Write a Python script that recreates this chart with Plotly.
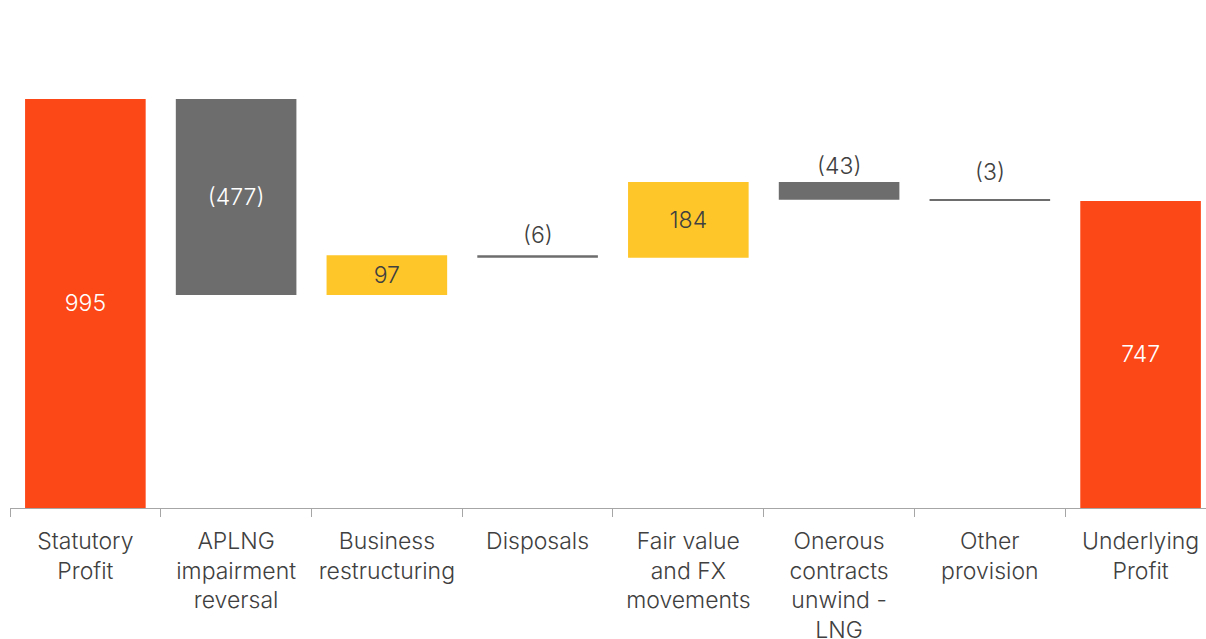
import plotly.graph_objects as go

categories = [
    "Statutory<br>Profit",
    "APLNG<br>impairment<br>reversal",
    "Business<br>restructuring",
    "Disposals",
    "Fair value<br>and FX<br>movements",
    "Onerous<br>contracts<br>unwind -<br>LNG",
    "Other<br>provision",
    "Underlying<br>Profit",
]
values = [995, -477, 97, -6, 184, -43, -3, 747]
kinds = ["total", "delta", "delta", "delta", "delta", "delta", "delta", "total"]

ORANGE = "#FC4717"
GREY = "#6D6D6D"
YELLOW = "#FFC629"
DARK = "#404040"
FONT = "Inter"

# running bases for the floating bars
bases, heights, colors = [], [], []
running = 0
for v, k in zip(values, kinds):
    if k == "total":
        bases.append(0)
        heights.append(v)
        colors.append(ORANGE)
        running = v
    else:
        if v >= 0:
            bases.append(running)
            heights.append(v)
            colors.append(YELLOW)
        else:
            bases.append(running + v)
            heights.append(-v)
            colors.append(GREY)
        running += v

def fmt(v, k):
    return f"({abs(v)})" if (v < 0 and k != "total") else f"{v}"

labels = [fmt(v, k) for v, k in zip(values, kinds)]
inside = [h >= 60 for h in heights]
text_in = [lab if ins else "" for lab, ins in zip(labels, inside)]
text_colors = [DARK if c == YELLOW else "white" for c in colors]

fig = go.Figure()
fig.add_trace(go.Bar(
    x=categories,
    y=heights,
    base=bases,
    width=0.8,
    marker=dict(color=colors, line=dict(width=0)),
    text=text_in,
    textposition="inside",
    insidetextanchor="middle",
    textangle=0,
    textfont=dict(family=FONT, size=23, color=text_colors, weight=300),
    hoverinfo="skip",
))

# labels for the thin bars sit above the bar
label_gap = {3: 4, 5: 0, 6: 12}
for i, (lab, ins) in enumerate(zip(labels, inside)):
    if not ins:
        fig.add_annotation(
            x=categories[i], y=bases[i] + heights[i], text=lab, showarrow=False,
            yanchor="bottom", yshift=label_gap.get(i, 4),
            font=dict(family=FONT, size=23, color=DARK, weight=300),
        )

fig.update_layout(
    width=1206, height=639,
    margin=dict(l=10, r=0, t=0, b=131),
    plot_bgcolor="white", paper_bgcolor="white",
    showlegend=False,
    bargap=0.2,
)
fig.update_xaxes(
    type="category",
    range=[-0.5, 7.434],
    automargin=False,
    tickson="boundaries",
    ticks="outside", ticklen=8, tickcolor="#A6A6A6",
    showline=True, linecolor="#A6A6A6", linewidth=1,
    showgrid=False, zeroline=False,
    ticklabelstandoff=12,
    tickfont=dict(family=FONT, size=23, color=DARK, weight=300),
)
fig.update_yaxes(
    range=[0, 1235.7],
    visible=False, showgrid=False, zeroline=False,
)

fig.write_html("out.html")
